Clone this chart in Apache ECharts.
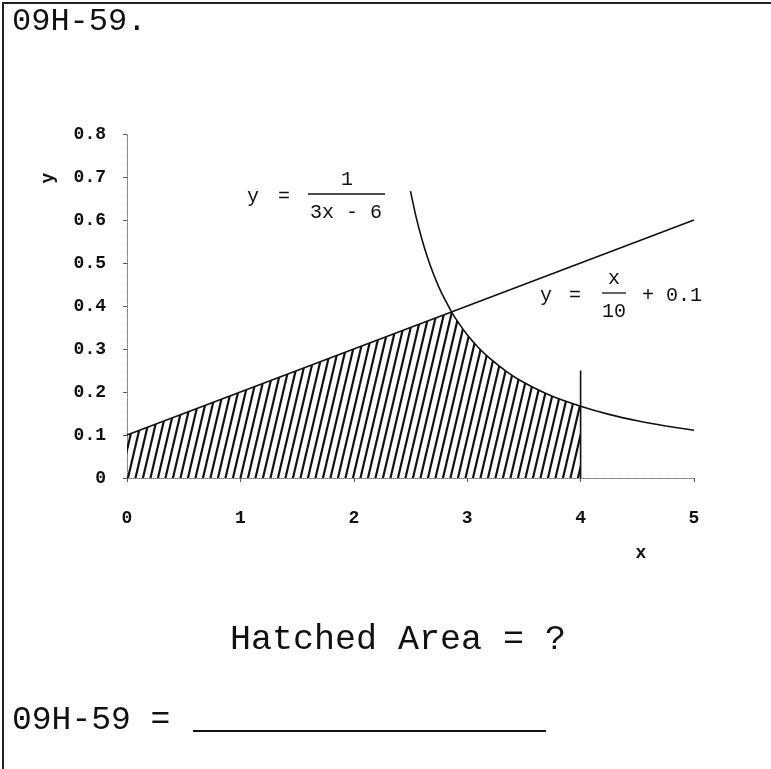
<!DOCTYPE html>
<html>
<head>
<meta charset="utf-8">
<script src="https://cdn.jsdelivr.net/npm/echarts@6/dist/echarts.min.js"></script>
<style>
  html, body { margin: 0; padding: 0; background: #fff; }
  #chart { width: 771px; height: 769px; }
</style>
</head>
<body>
<div id="chart"></div>
<script>
// tick labels
var xTicks = ['0', '1', '2', '3', '4', '5'];
var yTicks = ['0', '0.1', '0.2', '0.3', '0.4', '0.5', '0.6', '0.7', '0.8'];

// y = x/10 + 0.1
var lineX = [0, 5];
var lineY = [0.1, 0.6];

// y = 1/(3x - 6)
var curveX = [2.5, 2.55, 2.6, 2.65, 2.7, 2.75, 2.8, 2.863, 2.9, 3.0, 3.1, 3.2, 3.35, 3.5, 3.75, 4.0, 4.25, 4.5, 4.75, 5.0];
var curveY = [0.667, 0.606, 0.556, 0.513, 0.476, 0.444, 0.417, 0.386, 0.370, 0.333, 0.303, 0.278, 0.247, 0.222, 0.190, 0.167, 0.148, 0.133, 0.121, 0.111];

// top edge of the hatched region
var hatchX = [0, 2.863, 2.9, 3.0, 3.1, 3.2, 3.35, 3.5, 3.75, 4.0];
var hatchY = [0.1, 0.386, 0.370, 0.333, 0.303, 0.278, 0.247, 0.222, 0.190, 0.167];

// vertical line at x = 4
var markX = [4, 4];
var markY = [0, 0.25];

function pairs(xs, ys) {
  return xs.map(function (x, i) { return [x, ys[i]]; });
}

// diagonal hatch tile
var tile = document.createElement('canvas');
tile.width = 15;
tile.height = 64;
var ctx = tile.getContext('2d');
ctx.strokeStyle = '#111';
ctx.lineWidth = 2.2;
for (var k = -2; k <= 2; k++) {
  ctx.beginPath();
  ctx.moveTo(k * 7.5, 64);
  ctx.lineTo(k * 7.5 + 15, 0);
  ctx.stroke();
}

var mono = 'Liberation Mono';
var eqFont = '20px "Liberation Mono"';
var myChart = echarts.init(document.getElementById('chart'));

var option = {
  backgroundColor: '#fff',
  animation: false,
  grid: { left: 127, right: 77, top: 134, bottom: 291 },
  xAxis: {
    type: 'value',
    min: 0, max: 5, interval: 1,
    splitLine: { show: false },
    axisLine: { lineStyle: { color: '#777', type: 'dotted', width: 1 } },
    axisTick: { length: 4, lineStyle: { color: '#555' } },
    axisLabel: {
      margin: 31, color: '#111', fontFamily: mono, fontWeight: 'bold', fontSize: 18,
      formatter: function (v) { return xTicks[Math.round(v)]; }
    }
  },
  yAxis: {
    type: 'value',
    min: 0, max: 0.8, interval: 0.1,
    splitLine: { show: false },
    axisLine: { lineStyle: { color: '#777', type: 'dotted', width: 1 } },
    axisTick: { length: 4, lineStyle: { color: '#555' } },
    axisLabel: {
      margin: 21, color: '#111', fontFamily: mono, fontWeight: 'bold', fontSize: 18,
      formatter: function (v) { return yTicks[Math.round(v * 10)]; }
    }
  },
  series: [
    {
      type: 'line', data: pairs(hatchX, hatchY), symbol: 'none', silent: true,
      lineStyle: { width: 0 },
      areaStyle: { color: { image: tile, repeat: 'repeat' }, opacity: 1 }
    },
    {
      type: 'line', data: pairs(lineX, lineY), symbol: 'none',
      lineStyle: { color: '#111', width: 1.6 }
    },
    {
      type: 'line', data: pairs(curveX, curveY), symbol: 'none', smooth: 0.2,
      lineStyle: { color: '#111', width: 1.6 }
    },
    {
      type: 'line', data: pairs(markX, markY), symbol: 'none',
      lineStyle: { color: '#111', width: 1.6 }
    }
  ],
  graphic: [
    { type: 'polyline', shape: { points: [[3, 769], [3, 3], [771, 3]] }, style: { stroke: '#222', lineWidth: 2, fill: null } },
    { type: 'text', x: 12, y: 22, style: { text: '09H-59.', font: '32px "Liberation Mono"', fill: '#111', verticalAlign: 'middle' } },
    // axis names
    { type: 'text', x: 48, y: 178, rotation: Math.PI / 2, style: { text: 'y', font: 'bold 18px "Liberation Mono"', fill: '#111', align: 'center', verticalAlign: 'middle' } },
    { type: 'text', x: 641, y: 553, style: { text: 'x', font: 'bold 18px "Liberation Mono"', fill: '#111', align: 'center', verticalAlign: 'middle' } },
    // y = 1 / (3x - 6)
    { type: 'text', x: 253, y: 197, style: { text: 'y', font: eqFont, fill: '#111', align: 'center', verticalAlign: 'middle' } },
    { type: 'text', x: 284, y: 197, style: { text: '=', font: eqFont, fill: '#111', align: 'center', verticalAlign: 'middle' } },
    { type: 'text', x: 347, y: 180, style: { text: '1', font: eqFont, fill: '#111', align: 'center', verticalAlign: 'middle' } },
    { type: 'line', shape: { x1: 308, y1: 194, x2: 385, y2: 194 }, style: { stroke: '#111', lineWidth: 1.3 } },
    { type: 'text', x: 346, y: 213, style: { text: '3x - 6', font: eqFont, fill: '#111', align: 'center', verticalAlign: 'middle' } },
    // y = x / 10 + 0.1
    { type: 'text', x: 546, y: 296, style: { text: 'y', font: eqFont, fill: '#111', align: 'center', verticalAlign: 'middle' } },
    { type: 'text', x: 575, y: 296, style: { text: '=', font: eqFont, fill: '#111', align: 'center', verticalAlign: 'middle' } },
    { type: 'text', x: 614, y: 279, style: { text: 'x', font: eqFont, fill: '#111', align: 'center', verticalAlign: 'middle' } },
    { type: 'line', shape: { x1: 602, y1: 293, x2: 626, y2: 293 }, style: { stroke: '#111', lineWidth: 1.3 } },
    { type: 'text', x: 614, y: 312, style: { text: '10', font: eqFont, fill: '#111', align: 'center', verticalAlign: 'middle' } },
    { type: 'text', x: 642, y: 296, style: { text: '+ 0.1', font: eqFont, fill: '#111', verticalAlign: 'middle' } },
    // question and answer line
    { type: 'text', x: 398, y: 640, style: { text: 'Hatched Area = ?', font: '35px "Liberation Mono"', fill: '#111', align: 'center', verticalAlign: 'middle' } },
    { type: 'text', x: 12, y: 720, style: { text: '09H-59 =', font: '33px "Liberation Mono"', fill: '#111', verticalAlign: 'middle' } },
    { type: 'line', shape: { x1: 193, y1: 731, x2: 546, y2: 731 }, style: { stroke: '#111', lineWidth: 2 } }
  ]
};

myChart.setOption(option);
</script>
</body>
</html>
